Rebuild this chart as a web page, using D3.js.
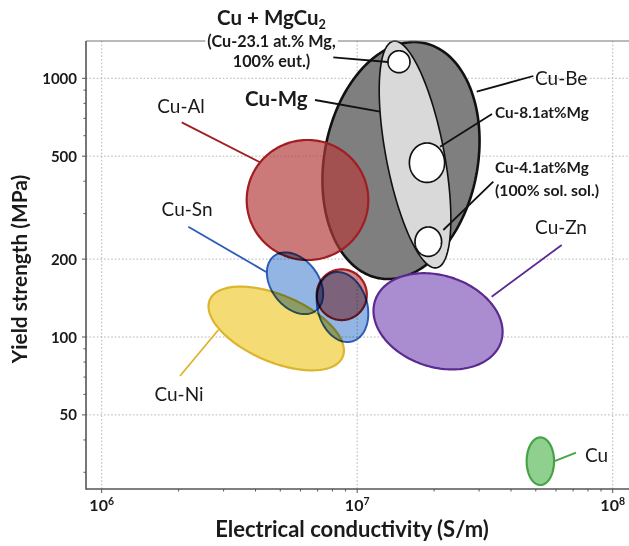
<!DOCTYPE html>
<html>
<head>
<meta charset="utf-8">
<script src="https://cdn.jsdelivr.net/npm/d3@7"></script>
<style>
  body { margin: 0; background: #fff; }
  svg { display: block; }
  text { font-family: Lato, "Open Sans", sans-serif; fill: #1a1a1a; }
</style>
</head>
<body>
<svg id="chart" width="629" height="546"></svg>
<script>
// Alloy property regions: centre conductivity (S/m), centre yield strength (MPa),
// semi-axes measured in decades on the log axes, tilt of the first semi-axis (deg).
const regionNames        = ["Cu-Be", "Cu-Mg", "Cu-Al", "Cu-Ni", "Cu-Sn", "Cu-Sn", "Cu-Al", "Cu-Zn", "Cu"];
const regionConductivity = [1.484e7, 1.684e7, 6.39e6, 4.82e6, 5.71e6, 8.76e6, 8.70e6, 2.072e7, 5.21e7];
const regionStrength     = [481, 507.5, 338.5, 107.9, 161.3, 130.6, 145.7, 115.0, 33.1];
const regionSpanMajor    = [0.463, 0.446, 0.238, 0.2824, 0.1335, 0.138, 0.098, 0.259, 0.092];
const regionSpanMinor    = [0.300, 0.1135, 0.232, 0.129, 0.0922, 0.097, 0.098, 0.177, 0.0536];
const regionTilt         = [79, 101, 0, -22.9, -51.5, 106.4, 0, -17.6, 90];

// Individual Cu-Mg alloys
const pointNames        = ["Cu-23.1 at.% Mg", "Cu-8.1at%Mg", "Cu-4.1at%Mg"];
const pointConductivity = [1.457e7, 1.876e7, 1.898e7];
const pointStrength     = [1159, 471.8, 233.6];
const pointSpanX        = [0.043, 0.0689, 0.052];
const pointSpanY        = [0.0425, 0.0762, 0.0568];

// Axis ticks
const xTickValues    = [1e6, 1e7, 1e8];
const xTickExponents = ["6", "7", "8"];
const yTickValues    = [50, 100, 200, 500, 1000];

// Region styles, in the same order as the regions
const regionStyles = [
  { fill: "#7f7f7f", stroke: "#111", width: 2.6, opacity: 1, blend: "normal" },
  { fill: "#d9d9d9", stroke: "#111", width: 1.6, opacity: 1, blend: "normal" },
  { fill: "rgb(178,58,58)", stroke: "#a11d21", width: 2.2, opacity: 0.68, blend: "normal" },
  { fill: "#f5db74", stroke: "#dcb52e", width: 2.2, opacity: 1, blend: "normal" },
  { fill: "#93b5e3", stroke: "#2c5bb8", width: 2, opacity: 1, blend: "multiply" },
  { fill: "#93b5e3", stroke: "#2c5bb8", width: 2, opacity: 1, blend: "multiply" },
  { fill: "#d88a8a", stroke: "#a11d21", width: 2.2, opacity: 1, blend: "multiply" },
  { fill: "#aa8dd1", stroke: "#5b2a91", width: 2.2, opacity: 1, blend: "normal" },
  { fill: "#8fd08f", stroke: "#46a446", width: 2.2, opacity: 1, blend: "normal" }
];

// Annotation texts (placed in data coordinates)
const noteLabels = [
  { text: "Cu-Al", at: [2.044e6, 734.4], anchor: "middle", size: 19, weight: 400 },
  { text: "Cu-Sn", at: [2.158e6, 293.6], anchor: "middle", size: 19, weight: 400 },
  { text: "Cu-Ni", at: [2.007e6, 56.56], anchor: "middle", size: 19, weight: 400 },
  { text: "Cu-Zn", at: [6.277e7, 250.1], anchor: "middle", size: 19, weight: 400 },
  { text: "Cu",    at: [7.791e7, 32.87], anchor: "start",  size: 19, weight: 400 },
  { text: "Cu-Be", at: [4.965e7, 942.1], anchor: "start",  size: 19, weight: 400 },
  { text: "Cu-Mg", at: [3.638e6, 781.5], anchor: "start",  size: 20.5, weight: 700 },
  { text: "Cu-8.1at%Mg",      at: [3.461e7, 699.3], anchor: "start", size: 15.3, weight: 700 },
  { text: "Cu-4.1at%Mg",      at: [3.461e7, 430.4], anchor: "start", size: 15.3, weight: 700 },
  { text: "(100% sol. sol.)", at: [3.461e7, 350.7], anchor: "start", size: 15.8, weight: 700 },
  { text: "Cu + MgCu", sub: "2", at: [4.62e6, 1607], anchor: "middle", size: 20.5, weight: 700 },
  { text: "(Cu-23.1 at.% Mg,", at: [4.62e6, 1321], anchor: "middle", size: 16.2, weight: 700, knockout: true },
  { text: "100% eut.)",        at: [4.62e6, 1106], anchor: "middle", size: 16.2, weight: 700 }
];

// Leader lines from labels to regions
const noteLeaders = [
  { from: [2.057e6, 675.8], to: [4.165e6, 473.4], color: "#a11d21" },
  { from: [2.183e6, 267.0], to: [4.436e6, 177.6], color: "#2c5bb8" },
  { from: [2.025e6, 70.66], to: [2.860e6, 106.4], color: "#dcb52e" },
  { from: [6.316e7, 226.8], to: [3.360e7, 143.2], color: "#5b2a91" },
  { from: [5.855e7, 32.96], to: [7.185e7, 35.71], color: "#46a446" },
  { from: [2.936e7, 887.7], to: [4.89e7, 1020.7], color: "#111" },
  { from: [6.836e6, 824.4], to: [1.228e7, 742.9], color: "#111" },
  { from: [8.063e6, 1205.6], to: [1.32e7, 1156], color: "#111" },
  { from: [3.369e7, 727.8], to: [2.110e7, 543.9], color: "#111" },
  { from: [3.409e7, 398.4], to: [2.173e7, 259.2], color: "#111" }
];

// ---------------------------------------------------------------------------
const svg = d3.select("#chart");
const frame = { left: 86, top: 41, right: 629, bottom: 489 };

svg.append("rect").attr("width", 629).attr("height", 546).attr("fill", "#fff");

const x = d3.scaleLog().domain([1e6, 1e8]).range([101.7, 612.7]);
const y = d3.scaleLog().domain([100, 1000]).range([337, 78.3]);

// Dotted grid at the labelled values
const grid = svg.append("g").attr("stroke", "#b5b5b5").attr("stroke-width", 1)
  .attr("stroke-dasharray", "1.6,2");
grid.selectAll("line.gx").data(xTickValues).join("line")
  .attr("x1", d => x(d)).attr("x2", d => x(d))
  .attr("y1", frame.top).attr("y2", frame.bottom);
grid.selectAll("line.gy").data(yTickValues).join("line")
  .attr("x1", frame.left).attr("x2", frame.right)
  .attr("y1", d => y(d)).attr("y2", d => y(d));

// Ellipse outline traced in log space and mapped through the scales
function ellipsePath(cx, cy, a, b, tiltDeg) {
  const th = tiltDeg * Math.PI / 180;
  const lx = Math.log10(cx), ly = Math.log10(cy);
  const pts = d3.range(0, 180).map(i => {
    const t = i / 180 * 2 * Math.PI;
    const u = a * Math.cos(t), v = b * Math.sin(t);
    const du = u * Math.cos(th) - v * Math.sin(th);
    const dv = u * Math.sin(th) + v * Math.cos(th);
    return [x(Math.pow(10, lx + du)), y(Math.pow(10, ly + dv))];
  });
  return d3.line().curve(d3.curveLinearClosed)(pts);
}

const regions = regionNames.map((name, i) => ({
  name, c: regionConductivity[i], s: regionStrength[i],
  a: regionSpanMajor[i], b: regionSpanMinor[i], tilt: regionTilt[i], style: regionStyles[i]
}));

const marks = svg.append("g");
function drawRegion(r) {
  const st = r.style;
  marks.append("path")
    .attr("d", ellipsePath(r.c, r.s, r.a, r.b, r.tilt))
    .attr("fill", st.fill).attr("fill-opacity", st.opacity)
    .attr("stroke", st.stroke).attr("stroke-width", st.width)
    .style("mix-blend-mode", st.blend);
}

// Cu-Be and Cu-Mg first, then the Cu-Mg alloys, then the remaining families
drawRegion(regions[0]);
drawRegion(regions[1]);
pointNames.forEach((n, i) => {
  marks.append("path")
    .attr("d", ellipsePath(pointConductivity[i], pointStrength[i], pointSpanX[i], pointSpanY[i], 0))
    .attr("fill", "#fff").attr("stroke", "#111").attr("stroke-width", 1.7);
});
regions.slice(2).forEach(drawRegion);

// Frame and axes
const axes = svg.append("g").attr("fill", "none");
axes.append("line").attr("x1", frame.left).attr("x2", frame.right)
  .attr("y1", frame.top).attr("y2", frame.top).attr("stroke", "#777").attr("stroke-width", 1.2);
axes.append("line").attr("x1", frame.left).attr("x2", frame.left)
  .attr("y1", frame.top).attr("y2", frame.bottom + 0.75).attr("stroke", "#555").attr("stroke-width", 1.6);
axes.append("line").attr("x1", frame.left).attr("x2", frame.right)
  .attr("y1", frame.bottom).attr("y2", frame.bottom).attr("stroke", "#555").attr("stroke-width", 1.6);

// Minor and major ticks on both axes
const xMinor = [];
[1e6, 1e7].forEach(d => d3.range(1, 10).forEach(k => xMinor.push(d * k)));
xMinor.push(1e8);
axes.selectAll("line.xt").data(xMinor).join("line")
  .attr("x1", d => x(d)).attr("x2", d => x(d))
  .attr("y1", frame.bottom)
  .attr("y2", d => frame.bottom + (xTickValues.includes(d) ? 4 : 2.5))
  .attr("stroke", "#555").attr("stroke-width", 1);

const yMinor = [];
[10, 100].forEach(d => d3.range(1, 10).forEach(k => yMinor.push(d * k)));
yMinor.push(1000);
axes.selectAll("line.yt").data(yMinor.filter(d => y(d) <= frame.bottom && y(d) >= frame.top)).join("line")
  .attr("y1", d => y(d)).attr("y2", d => y(d))
  .attr("x1", frame.left)
  .attr("x2", d => frame.left - (yTickValues.includes(d) ? 4 : 2.5))
  .attr("stroke", "#555").attr("stroke-width", 1);

// Tick labels
svg.append("g").selectAll("text").data(yTickValues).join("text")
  .attr("x", 77).attr("y", d => y(d) + 5.5)
  .attr("text-anchor", "end").attr("font-size", 15).attr("font-weight", 700)
  .text(d => d);

const xl = svg.append("g").selectAll("text").data(xTickValues).join("text")
  .attr("x", d => x(d)).attr("y", 511)
  .attr("text-anchor", "middle").attr("font-size", 16).attr("font-weight", 700);
xl.append("tspan").text("10");
xl.append("tspan").attr("dy", -6).attr("font-size", 10.5).text((d, i) => xTickExponents[i]);

// Axis titles
svg.append("text").attr("x", 352).attr("y", 536.5)
  .attr("text-anchor", "middle").attr("font-size", 22).attr("font-weight", 700)
  .text("Electrical conductivity (S/m)");
svg.append("text").attr("transform", "translate(27,269) rotate(-90)")
  .attr("text-anchor", "middle").attr("font-size", 20.8).attr("font-weight", 700)
  .text("Yield strength (MPa)");

// Leader lines
svg.append("g").selectAll("line").data(noteLeaders).join("line")
  .attr("x1", d => x(d.from[0])).attr("y1", d => y(d.from[1]))
  .attr("x2", d => x(d.to[0])).attr("y2", d => y(d.to[1]))
  .attr("stroke", d => d.color).attr("stroke-width", 1.8);

// Annotation texts
const notes = svg.append("g");
noteLabels.forEach(n => {
  const t = notes.append("text")
    .attr("x", x(n.at[0])).attr("y", y(n.at[1]))
    .attr("text-anchor", n.anchor).attr("font-size", n.size).attr("font-weight", n.weight);
  t.append("tspan").text(n.text);
  if (n.sub) t.append("tspan").attr("font-size", n.size * 0.62).attr("dy", 4).text(n.sub);
  if (n.knockout) {
    const bb = t.node().getBBox();
    notes.insert("rect", () => t.node())
      .attr("x", bb.x - 2).attr("y", bb.y).attr("width", bb.width + 4).attr("height", bb.height)
      .attr("fill", "#fff");
  }
});
</script>
</body>
</html>
